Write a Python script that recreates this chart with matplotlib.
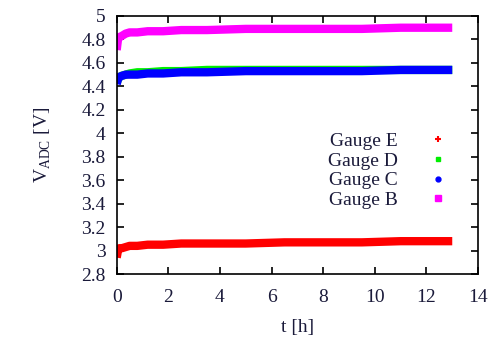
import matplotlib.pyplot as plt
from matplotlib.lines import Line2D

# time [h] and voltage readings per gauge
t = [0.0, 0.05, 0.1, 0.2, 0.35, 0.5, 0.8, 1.2, 1.8, 2.5, 3.5, 5.0, 6.5, 8.0, 9.5, 11.0, 12.0, 13.0]
gauge_b = [4.71, 4.80, 4.82, 4.83, 4.85, 4.86, 4.86, 4.87, 4.87, 4.88, 4.88, 4.89, 4.89, 4.89, 4.89, 4.90, 4.90, 4.90]
gauge_c = [4.42, 4.46, 4.48, 4.49, 4.50, 4.50, 4.50, 4.51, 4.51, 4.52, 4.52, 4.53, 4.53, 4.53, 4.53, 4.54, 4.54, 4.54]
gauge_d = [4.43, 4.46, 4.48, 4.49, 4.50, 4.51, 4.52, 4.52, 4.53, 4.53, 4.54, 4.54, 4.54, 4.54, 4.54, 4.54, 4.54, 4.54]
gauge_e = [2.94, 3.00, 3.02, 3.02, 3.03, 3.04, 3.04, 3.05, 3.05, 3.06, 3.06, 3.06, 3.07, 3.07, 3.07, 3.08, 3.08, 3.08]

plt.rcParams['font.family'] = 'Liberation Serif'
plt.rcParams['mathtext.fontset'] = 'custom'
plt.rcParams['mathtext.rm'] = 'Liberation Serif'

fig = plt.figure(figsize=(4.93, 3.38), dpi=100)
ax = fig.add_axes([0.2367, 0.1893, 0.733, 0.7634])

txt = '#1a1a3a'
ax.plot(t, gauge_d, color='#00ee00', lw=6, solid_capstyle='butt')
ax.plot(t, gauge_c, color='#0000ff', lw=6, solid_capstyle='butt')
ax.plot(t, gauge_b, color='#ff00ff', lw=6, solid_capstyle='butt')
ax.plot(t, gauge_e, color='#ff0000', lw=6, solid_capstyle='butt')

ax.set_xlim(0, 14)
ax.set_ylim(2.8, 5.0)
ax.set_xticks(range(0, 15, 2))
ax.set_yticks([2.8, 3.0, 3.2, 3.4, 3.6, 3.8, 4.0, 4.2, 4.4, 4.6, 4.8, 5.0])
ax.set_yticklabels(['2.8', '3', '3.2', '3.4', '3.6', '3.8', '4', '4.2', '4.4', '4.6', '4.8', '5'])
ax.tick_params(direction='in', top=True, right=True, length=5, width=1.2,
               labelsize=14, labelcolor=txt)
ax.tick_params(axis='y', pad=8)
ax.tick_params(axis='x', pad=11)
for s in ax.spines.values():
    s.set_linewidth(1.2)

ax.set_xlabel('t [h]', fontsize=14, color=txt, labelpad=9)
ax.set_ylabel(r'V$_{\rm ADC}$ [V]', fontsize=14, color=txt, labelpad=20)

handles = [
    Line2D([], [], ls='none', marker='+', color='#ff0000', ms=5, mew=1.5),
    Line2D([], [], ls='none', marker='s', color='#00ee00', ms=3),
    Line2D([], [], ls='none', marker='o', color='#0000ff', ms=3.5),
    Line2D([], [], ls='none', marker='s', color='#ff00ff', ms=4),
]
leg = ax.legend(handles, ['Gauge E', 'Gauge D', 'Gauge C', 'Gauge B'],
                loc='center right', bbox_to_anchor=(0.978, 0.40), markerfirst=False,
                frameon=False, fontsize=14, handlelength=1.5, labelspacing=0.1,
                handletextpad=1.3)
for tx in leg.get_texts():
    tx.set_color(txt)

fig.savefig('out.png', dpi=100)
